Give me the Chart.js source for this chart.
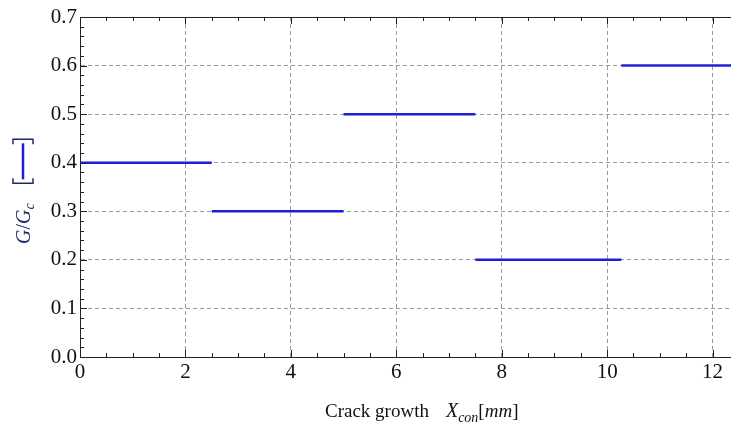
<!DOCTYPE html>
<html>
<head>
<meta charset="utf-8">
<script src="https://cdn.jsdelivr.net/npm/chart.js@4/dist/chart.umd.min.js"></script>
<style>
  html, body { margin: 0; padding: 0; background: #fff; }
  #wrap { width: 731px; height: 423px; }
</style>
</head>
<body>
<div id="wrap"><canvas id="crackChart"></canvas></div>
<script>
/* ============================
   Data: energy release ratio per crack step
============================ */
const segStart = [0, 2.5, 5.0, 7.5, 10.27];
const segEnd = [2.5, 5.0, 7.5, 10.27, 12.35];
const ratio = [0.4, 0.3, 0.5, 0.2, 0.6];

const xMin = 0, xMax = 12.35;
const yMin = 0, yMax = 0.7;

const serif = '"Liberation Serif", "Times New Roman", serif';
const lineBlue = '#1f1fd8';
const navy = '#1b2a66';

/* ============================
   Frame ticks (inward, major + minor) on all sides
============================ */
const frameTicks = {
    id: 'frameTicks',
    afterDraw(chart) {
        const { ctx, chartArea: a, scales: { x, y } } = chart;
        ctx.save();
        ctx.strokeStyle = '#222';
        ctx.lineWidth = 1;
        ctx.beginPath();
        // top border
        ctx.moveTo(a.left, a.top + 0.5);
        ctx.lineTo(a.right, a.top + 0.5);
        for (let v = 0; v <= xMax + 1e-9; v += 0.5) {
            const px = Math.round(x.getPixelForValue(v)) + 0.5;
            const len = Math.abs(v % 2) < 1e-9 ? 7 : 4;
            ctx.moveTo(px, a.bottom); ctx.lineTo(px, a.bottom - len);
            ctx.moveTo(px, a.top); ctx.lineTo(px, a.top + len);
        }
        for (let i = 0; i <= 35; i++) {
            const v = i * 0.02;
            const py = Math.round(y.getPixelForValue(v)) + 0.5;
            const len = i % 5 === 0 ? 7 : 4;
            ctx.moveTo(a.left, py); ctx.lineTo(a.left + len, py);
        }
        ctx.stroke();
        ctx.restore();
    }
};

/* ============================
   Axis titles with italics and subscripts
============================ */
function drawRun(ctx, parts, x, y) {
    let cx = x;
    parts.forEach(p => {
        ctx.font = p.font;
        ctx.fillStyle = p.color || '#111';
        ctx.fillText(p.text, cx, y + (p.dy || 0));
        cx += ctx.measureText(p.text).width + (p.gap || 0);
    });
    return cx;
}

const axisTitles = {
    id: 'axisTitles',
    afterDraw(chart) {
        const ctx = chart.ctx;
        ctx.save();
        ctx.textBaseline = 'alphabetic';

        // x title: Crack growth X_con [mm]
        drawRun(ctx, [
            { text: 'Crack growth', font: `19px ${serif}`, gap: 17 },
            { text: 'X', font: `italic 20px ${serif}` },
            { text: 'con', font: `italic 14px ${serif}`, dy: 5 },
            { text: '[', font: `19px ${serif}` },
            { text: 'mm', font: `italic 19px ${serif}` },
            { text: ']', font: `19px ${serif}` }
        ], 325, 417);

        // y title: G/G_c then the legend swatch, rotated bottom-to-top
        ctx.translate(30, 244);
        ctx.rotate(-Math.PI / 2);
        const end = drawRun(ctx, [
            { text: 'G', font: `italic 20px ${serif}`, color: navy },
            { text: '/', font: `20px ${serif}`, color: navy },
            { text: 'G', font: `italic 20px ${serif}`, color: navy },
            { text: 'c', font: `italic 14px ${serif}`, color: navy, dy: 4 }
        ], 0, 0);

        // bracket with the series line inside
        const bx = end + 20;
        const bw = 44;
        ctx.strokeStyle = navy;
        ctx.lineWidth = 1.5;
        ctx.beginPath();
        ctx.moveTo(bx + 5, -17); ctx.lineTo(bx, -17); ctx.lineTo(bx, 3); ctx.lineTo(bx + 5, 3);
        ctx.moveTo(bx + bw - 5, -17); ctx.lineTo(bx + bw, -17);
        ctx.lineTo(bx + bw, 3); ctx.lineTo(bx + bw - 5, 3);
        ctx.stroke();
        ctx.strokeStyle = lineBlue;
        ctx.lineWidth = 2.5;
        ctx.beginPath();
        ctx.moveTo(bx + 4, -7); ctx.lineTo(bx + bw - 4, -7);
        ctx.stroke();
        ctx.restore();
    }
};

/* ============================
   Build chart
============================ */
const datasets = ratio.map((r, i) => ({
    data: [{ x: segStart[i], y: r }, { x: segEnd[i], y: r }],
    borderColor: lineBlue,
    borderWidth: 2.5,
    pointRadius: 0,
    showLine: true,
    fill: false
}));

new Chart(document.getElementById('crackChart').getContext('2d'), {
    type: 'scatter',
    data: { datasets: datasets },
    options: {
        responsive: true,
        maintainAspectRatio: false,
        animation: false,
        layout: { padding: { top: 17, right: 0, left: 0, bottom: 0 } },
        plugins: {
            legend: { display: false },
            tooltip: { enabled: false }
        },
        scales: {
            x: {
                type: 'linear',
                min: xMin,
                max: xMax,
                afterFit: s => { s.height = 66; },
                ticks: {
                    stepSize: 2,
                    includeBounds: false,
                    color: '#111',
                    font: { family: serif, size: 21 },
                    padding: 3,
                    maxRotation: 0,
                    callback: v => v
                },
                grid: {
                    color: '#9a9a9a',
                    drawTicks: false,
                    tickLength: 0
                },
                border: { display: true, color: '#222', width: 1, dash: [4, 3] }
            },
            y: {
                min: yMin,
                max: yMax,
                afterFit: s => { s.width = 80; },
                ticks: {
                    stepSize: 0.1,
                    color: '#111',
                    font: { family: serif, size: 21 },
                    padding: 3,
                    callback: v => v.toFixed(1)
                },
                grid: {
                    color: '#9a9a9a',
                    drawTicks: false,
                    tickLength: 0
                },
                border: { display: true, color: '#222', width: 1, dash: [4, 3] }
            }
        }
    },
    plugins: [frameTicks, axisTitles]
});
</script>
</body>
</html>
